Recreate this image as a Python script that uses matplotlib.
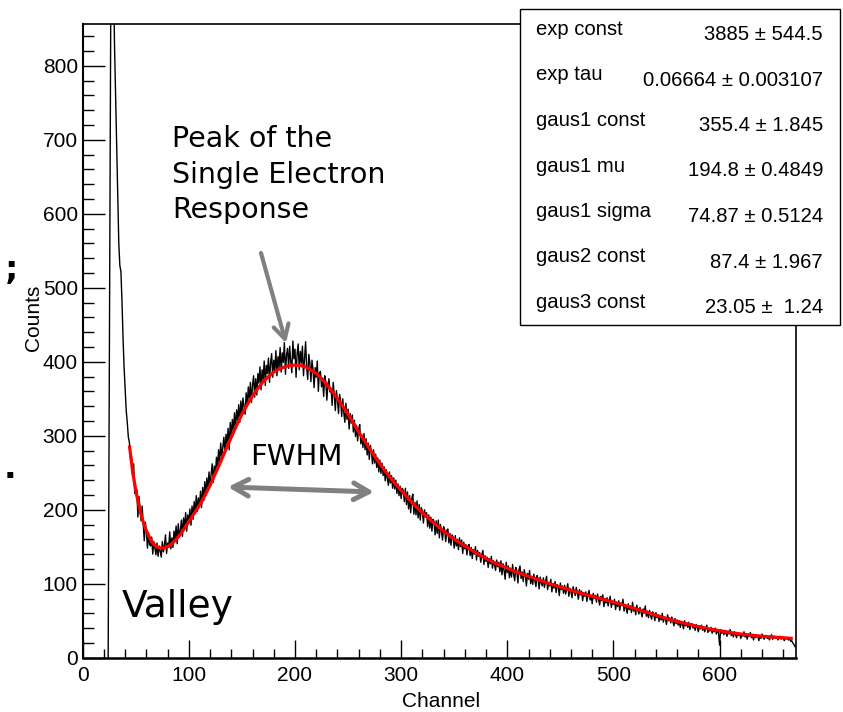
import numpy as np
import matplotlib
matplotlib.use("Agg")
import matplotlib.pyplot as plt
from matplotlib.patches import Rectangle
from matplotlib.ticker import MultipleLocator, FormatStrFormatter
from matplotlib import font_manager as fm

# ---------------- data ----------------
hist_first_channel = 24
hist_counts = [
    0, 350, 700, 1100, 1050, 920, 826, 758, 685, 616, 560, 530, 522, 482, 432, 392, 362, 334, 318, 298,
    291, 270, 272, 246, 262, 222, 225, 227, 190, 218,
    203, 185, 205, 181, 158, 183, 171, 148, 169, 153,
    151, 163, 140, 157, 148, 139, 155, 137, 151, 144,
    136, 157, 143, 152, 166, 141, 155, 149, 170, 147,
    162, 149, 171, 158, 178, 154, 181, 163, 172, 186,
    164, 189, 175, 196, 171, 193, 182, 201, 179, 205,
    187, 211, 195, 219, 198, 216, 204, 225, 203, 230,
    212, 238, 219, 243, 226, 251, 232, 248, 262, 237,
    259, 247, 271, 256, 281, 262, 290, 271, 284, 298,
    276, 302, 289, 310, 281, 318, 300, 322, 306, 331,
    309, 335, 321, 342, 318, 347, 330, 351, 339, 329,
    358, 340, 366, 349, 372, 345, 368, 381, 352, 377,
    355, 384, 371, 393, 362, 389, 376, 401, 368, 395,
    384, 405, 372, 398, 411, 379, 402, 388, 415, 381,
    407, 392, 419, 386, 412, 399, 426, 383, 409, 418,
    391, 421, 400, 385, 428, 404, 417, 379, 411, 424,
    389, 414, 398, 421, 381, 405, 427, 392, 376, 410,
    398, 373, 402, 389, 365, 392, 379, 401, 360, 385,
    387, 366, 378, 353, 381, 374, 348, 369, 377, 359,
    364, 341, 372, 355, 334, 361, 349, 330, 356, 347,
    326, 350, 331, 318, 344, 322, 336, 309, 330, 317,
    328, 305, 321, 299, 314, 293, 309, 315, 289, 301,
    284, 303, 281, 296, 274, 290, 268, 287, 279, 262,
    281, 263, 275, 257, 270, 251, 267, 249, 263, 246,
    258, 239, 254, 242, 233, 251, 236, 246, 229, 243,
    228, 240, 222, 235, 219, 232, 215, 229, 226, 211,
    229, 207, 224, 201, 219, 196, 215, 221, 194, 210,
    193, 212, 189, 207, 186, 203, 198, 182, 200, 190,
    196, 177, 193, 175, 190, 171, 187, 184, 166, 185,
    168, 186, 162, 180, 171, 159, 177, 173, 157, 172,
    174, 155, 168, 152, 166, 163, 148, 165, 151, 160,
    146, 162, 150, 159, 141, 156, 147, 153, 139, 151,
    153, 138, 149, 134, 146, 140, 150, 132, 145, 137,
    142, 129, 139, 145, 126, 138, 130, 136, 122, 134,
    127, 137, 121, 131, 125, 118, 132, 123, 129, 116,
    131, 112, 127, 118, 106, 129, 115, 124, 108, 121,
    109, 126, 113, 104, 122, 117, 101, 119, 124, 107,
    116, 103, 119, 111, 97, 114, 106, 118, 100, 110,
    99, 113, 104, 96, 111, 107, 93, 109, 101, 97,
    108, 95, 103, 110, 92, 101, 97, 106, 89, 100,
    94, 103, 88, 99, 96, 84, 101, 92, 97, 87,
    98, 86, 93, 100, 83, 94, 89, 81, 96, 90,
    84, 95, 87, 79, 92, 85, 90, 77, 88, 83,
    89, 76, 85, 91, 78, 84, 73, 87, 80, 84,
    75, 86, 79, 71, 83, 77, 85, 69, 80, 74,
    81, 70, 77, 83, 68, 76, 72, 79, 65, 75,
    69, 77, 64, 74, 71, 79, 63, 72, 67, 60,
    73, 65, 70, 61, 75, 63, 68, 58, 71, 64,
    59, 68, 62, 55, 66, 60, 70, 56, 63, 54,
    64, 57, 52, 62, 59, 50, 61, 54, 58, 49,
    57, 51, 60, 48, 55, 52, 45, 58, 50, 54,
    47, 55, 49, 43, 53, 46, 51, 44, 50, 41,
    49, 45, 39, 50, 43, 47, 41, 48, 38, 45,
    46, 40, 44, 37, 45, 41, 35, 43, 39, 44,
    37, 42, 35, 40, 44, 34, 39, 36, 41, 33,
    39, 35, 40, 32, 37, 34, 17, 38, 33, 36,
    31, 37, 33, 29, 36, 32, 38, 30, 34, 28,
    35, 31, 27, 34, 30, 33, 26, 32, 29, 35,
    28, 32, 25, 31, 29, 34, 27, 30, 24, 31,
    27, 31, 29, 23, 30, 26, 32, 28, 25, 29,
    30, 26, 28, 24, 29, 31, 25, 27, 29, 26,
    28, 24, 27, 29, 25, 28, 26, 23, 27, 26,
    25, 24, 26, 22, 23, 20, 18, 15,
]

fit_channels = [44, 47, 50, 53, 56, 59, 62, 65, 68, 71, 74, 77, 80, 84, 88, 92, 96, 100,
                105, 110, 115, 120, 125, 130, 135, 140, 145, 150, 155, 160, 165, 170, 175,
                180, 185, 190, 195, 200, 205, 210, 215, 220, 225, 230, 235, 240, 245, 250,
                255, 260, 265, 270, 275, 280, 285, 290, 295, 300, 310, 320, 330, 340, 350,
                360, 370, 380, 390, 400, 410, 420, 430, 440, 450, 460, 470, 480, 490, 500,
                510, 520, 530, 540, 550, 560, 570, 580, 590, 600, 610, 620, 630, 640, 650,
                660, 669]
fit_values = [287, 252, 226, 205, 188, 175, 165, 157, 152, 149, 148, 148.5, 150, 154, 160, 167,
              175, 184, 195, 206, 219, 233, 249, 265, 282, 298, 314, 329, 342, 354, 364, 373,
              380, 386, 390, 393, 395, 395.5, 395, 393, 389, 384, 377, 369, 360, 350, 340, 329,
              317, 305, 294, 283, 272, 262, 252, 243, 234, 226, 210, 196, 183, 171, 160, 151,
              142, 134, 127, 121, 115, 110, 105, 100, 95.5, 91, 87, 83, 79, 75, 71, 66.5, 62,
              57.5, 53, 49, 45.5, 42, 39, 36.5, 34, 32, 30.5, 29, 28, 27, 26]

x_label = "Channel"
y_label = "Counts"
stat_names = ["exp const", "exp tau", "gaus1 const", "gaus1 mu", "gaus1 sigma",
              "gaus2 const", "gaus3 const"]
stat_values = ["3885 ± 544.5", "0.06664 ± 0.003107", "355.4 ± 1.845", "194.8 ± 0.4849",
               "74.87 ± 0.5124", "87.4 ± 1.967", "23.05 ±  1.24"]

# ---------------- layout ----------------
W, H = 843, 712
fig = plt.figure(figsize=(W / 100, H / 100), dpi=100)
fig.patch.set_facecolor("white")


def fx(x):
    return x / W


def fy(y):
    return 1 - y / H


names = {f.name for f in fm.fontManager.ttflist}
if "Liberation Sans Narrow" in names:
    SANS = "Liberation Sans Narrow"
    tick_size, stat_size, title_size = 16.5, 16.5, 16.5
else:
    SANS = "Liberation Sans"
    tick_size, stat_size, title_size = 15.0, 14.6, 15.0
HAND = "DejaVu Sans"

L, R, T, B = 82.7, 796, 24.3, 657.7
ax = fig.add_axes([fx(L), fy(B), fx(R) - fx(L), fy(T) - fy(B)])

channels = np.arange(hist_first_channel, hist_first_channel + len(hist_counts))
ax.plot(channels, hist_counts, color="black", lw=1.0, zorder=2)
ax.plot(fit_channels, fit_values, color="#ff0000", lw=2.3, zorder=3, solid_capstyle="butt")

ax.set_xlim(0, 672)
ax.set_ylim(0, 856)
ax.xaxis.set_major_locator(MultipleLocator(100))
ax.xaxis.set_minor_locator(MultipleLocator(20))
ax.yaxis.set_major_locator(MultipleLocator(100))
ax.yaxis.set_minor_locator(MultipleLocator(20))
ax.xaxis.set_major_formatter(FormatStrFormatter("%d"))
ax.yaxis.set_major_formatter(FormatStrFormatter("%d"))

ax.tick_params(axis="x", which="major", direction="in", length=13.3, width=1.0, pad=6.0,
               labelsize=tick_size, top=False)
ax.tick_params(axis="x", which="minor", direction="in", length=6.6, width=1.0, top=False)
ax.tick_params(axis="y", which="major", direction="in", length=15.8, width=1.0, pad=3.5,
               labelsize=tick_size, right=False)
ax.tick_params(axis="y", which="minor", direction="in", length=7.7, width=1.0, right=False)
for lab in ax.get_xticklabels() + ax.get_yticklabels():
    lab.set_fontfamily(SANS)

ax.spines["left"].set_linewidth(1.5)
ax.spines["bottom"].set_linewidth(1.8)
ax.spines["top"].set_linewidth(1.2)
ax.spines["right"].set_linewidth(1.2)

# axis titles
fig.text(fx(441), fy(707), x_label, ha="center", va="baseline", fontsize=title_size, family=SANS)
fig.text(fx(34), fy(318), y_label, ha="center", va="center", rotation=90, fontsize=title_size,
         family=SANS)

# stats box
fig.add_artist(Rectangle((fx(520), fy(325)), fx(840) - fx(520), fy(9.3) - fy(325),
                         transform=fig.transFigure, facecolor="white", edgecolor="black",
                         lw=1.0, zorder=10))
for i, (n, v) in enumerate(zip(stat_names, stat_values)):
    base = 35 + 45.5 * i
    fig.text(fx(536), fy(base), n, ha="left", va="baseline", fontsize=stat_size, family=SANS,
             zorder=11)
    fig.text(fx(823), fy(base + 5), v, ha="right", va="baseline", fontsize=stat_size,
             family=SANS, zorder=11)

# annotations
gray = "#808080"
hand_size = 20.5
fig.text(fx(172), fy(146.7), "Peak of the", ha="left", va="baseline", fontsize=hand_size,
         family=HAND)
fig.text(fx(172), fy(183.3), "Single Electron", ha="left", va="baseline", fontsize=hand_size,
         family=HAND)
fig.text(fx(172), fy(218.3), "Response", ha="left", va="baseline", fontsize=hand_size,
         family=HAND)
ax.annotate("", xy=(fx(286), fy(343)), xycoords="figure fraction",
            xytext=(fx(261), fy(253)), textcoords="figure fraction",
            arrowprops=dict(arrowstyle="->,head_length=1.0,head_width=0.55", color=gray,
                            lw=3.0, shrinkA=0, shrinkB=0))

fig.text(fx(296), fy(465), "FWHM", ha="center", va="baseline", fontsize=21, family=HAND)
ax.annotate("", xy=(fx(228), fy(487)), xycoords="figure fraction",
            xytext=(fx(374), fy(492)), textcoords="figure fraction",
            arrowprops=dict(arrowstyle="<->,head_length=1.1,head_width=0.6", color=gray,
                            lw=3.6, shrinkA=0, shrinkB=0))

fig.text(fx(122), fy(617), "Valley", ha="left", va="baseline", fontsize=27, family=HAND)

# remnants of slide text at the left edge
fig.text(fx(12), fy(270), ";", ha="center", va="center", fontsize=24, fontweight="bold",
         family=HAND)
fig.text(fx(10), fy(468), ".", ha="center", va="center", fontsize=24, fontweight="bold",
         family=HAND)

fig.savefig("out.png", dpi=100, facecolor="white")
